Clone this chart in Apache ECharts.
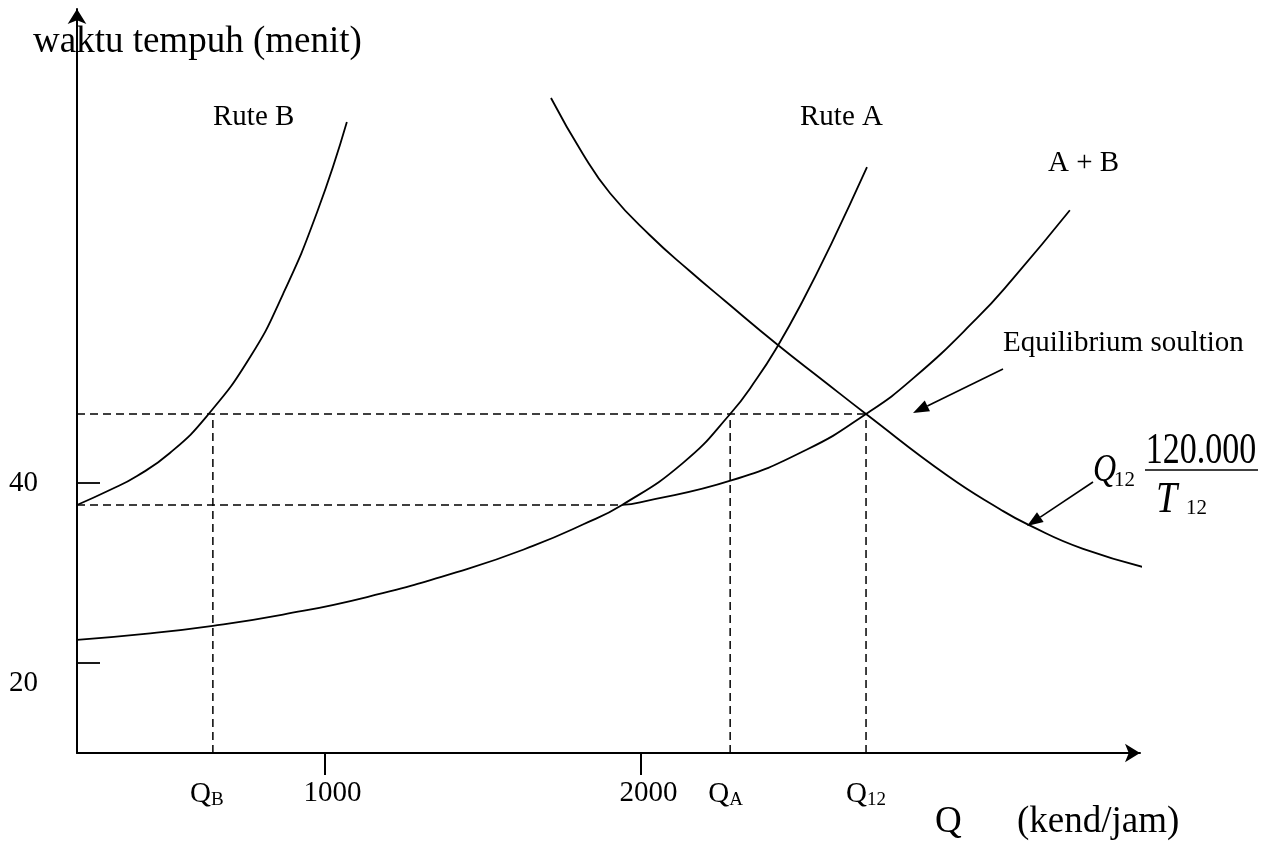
<!DOCTYPE html>
<html>
<head>
<meta charset="utf-8">
<script src="https://cdn.jsdelivr.net/npm/echarts@6/dist/echarts.min.js"></script>
<style>html,body{margin:0;padding:0;background:#fff}#c{width:1277px;height:842px}</style>
</head>
<body>
<div id="c"></div>
<script>
// ---------- data (Q in kend/jam, T in menit) ----------
const Q_MIN = 215, Q_MAX = 3579;
const T_MIN = 10, T_MAX = 92.67;

const T_EQ = 47.67;      // equilibrium travel time
const T_B0 = 37.56;      // free-flow time route B
const Q_SPLIT = 1940;    // where A+B leaves route A
const Q_B = 645;
const Q_A = 2282;
const Q_12 = 2712;

const ruteBQ = [215, 319, 405, 509, 626, 763, 867, 975, 1069];
const ruteBT = [37.56, 39.22, 40.78, 43.33, 47.44, 54.0, 61.0, 70.11, 80.11];

const ruteAQ = [215, 430, 645, 867, 1133, 1449, 1658, 1816, 1940, 2133, 2282, 2367, 2433, 2509, 2601, 2715];
const ruteAT = [22.56, 23.23, 24.13, 25.38, 27.33, 30.44, 33.01, 35.39, 37.56, 42.24, 47.67, 51.63, 55.26, 60.06, 66.5, 75.1];

const sumABQ = [1940, 1997, 2288, 2525, 2712, 2861, 3063, 3177, 3357];
const sumABT = [37.56, 37.86, 40.31, 43.72, 47.67, 51.62, 58.31, 62.71, 70.31];

const demandQ = [1715, 1816, 1902, 2028, 2155, 2266, 2433, 2576, 2712, 2968, 3136, 3225, 3399, 3649];
const demandT = [82.78, 76.56, 72.2, 67.53, 63.53, 60.22, 55.33, 51.39, 47.67, 40.86, 37.09, 35.38, 32.69, 30.14];

const X_TICKS = [1000, 2000];
const X_LABEL_VALUES = [Q_B, 1000, 2000, Q_A, Q_12];
const X_LABEL_TEXTS = ['{q|Q}{sB|B}', '{n|1000}', '{n|2000}', '{q|Q}{sA|A}', '{q|Q}{s|12}'];
const Y_TICKS = [20, 40];
const Y_LABEL_TEXTS = ['{d|20}', '{u|40}'];

// ---------- chart ----------
const FONT = '"Liberation Serif", "Times New Roman", serif';
const chart = echarts.init(document.getElementById('c'));

function pairs(xs, ys) { return xs.map((x, i) => [x, ys[i]]); }
const curveStyle = { color: '#000', width: 1.8 };
const dashStyle = { color: '#000', width: 1.5, type: [8, 5] };

function curve(name, xs, ys, extra) {
  return Object.assign({
    name: name, type: 'line', data: pairs(xs, ys), smooth: 0.5, symbol: 'none',
    lineStyle: curveStyle, silent: true, animation: false
  }, extra || {});
}
function dash(name, pts) {
  return { name: name, type: 'line', data: pts, symbol: 'none', lineStyle: dashStyle, silent: true, animation: false };
}

function arrowEls(x1, y1, x2, y2) {
  const len = 16, w = 12;
  const dx = x2 - x1, dy = y2 - y1, L = Math.hypot(dx, dy);
  const ux = dx / L, uy = dy / L;
  const bx = x2 - ux * len, by = y2 - uy * len;
  const px = -uy, py = ux;
  return [
    { type: 'line', shape: { x1: x1, y1: y1, x2: bx, y2: by }, style: { stroke: '#000', lineWidth: 1.6 } },
    { type: 'polygon', shape: { points: [[x2, y2], [bx + px * w / 2, by + py * w / 2], [bx - px * w / 2, by - py * w / 2]] }, style: { fill: '#000' } }
  ];
}

function txt(text, x, y, size, opts) {
  opts = opts || {};
  return {
    type: 'text', x: x, y: y, scaleY: opts.scaleY || 1, z: 10,
    style: {
      text: text, fontSize: size, fontFamily: FONT, fontStyle: opts.italic ? 'italic' : 'normal',
      fill: '#000', align: opts.align || 'left', textAlign: opts.align || 'left',
      verticalAlign: 'middle', textVerticalAlign: 'middle'
    }
  };
}

const richX = {
  n: { fontFamily: FONT, fontSize: 29, color: '#000', padding: [0, 0, 0, 15] },
  q: { fontFamily: FONT, fontSize: 29, color: '#000' },
  s: { fontFamily: FONT, fontSize: 19, color: '#000', padding: [12, 0, 0, 0] },
  sB: { fontFamily: FONT, fontSize: 19, color: '#000', padding: [12, 12, 0, 0] },
  sA: { fontFamily: FONT, fontSize: 19, color: '#000', padding: [12, 9, 0, 0] }
};
const richY = {
  d: { fontFamily: FONT, fontSize: 29, color: '#000', padding: [40, 0, 0, 0] },
  u: { fontFamily: FONT, fontSize: 29, color: '#000' }
};

const option = {
  backgroundColor: '#fff',
  animation: false,
  grid: { left: 77, top: 9, width: 1063, height: 744, containLabel: false, outerBoundsMode: 'none' },
  xAxis: {
    type: 'value', min: Q_MIN, max: Q_MAX,
    splitLine: { show: false },
    axisLine: { show: true, onZero: false, symbol: ['none', 'arrow'], symbolSize: [14, 15], lineStyle: { color: '#000', width: 2 } },
    axisTick: { show: true, customValues: X_TICKS, length: 22, lineStyle: { color: '#000', width: 2 } },
    axisLabel: {
      show: true, customValues: X_LABEL_VALUES, margin: 26, color: '#000', fontFamily: FONT, fontSize: 29,
      formatter: function (v) {
        const i = X_LABEL_VALUES.findIndex(u => Math.abs(u - v) < 1e-6);
        return i >= 0 ? X_LABEL_TEXTS[i] : '';
      },
      rich: richX
    }
  },
  yAxis: {
    type: 'value', min: T_MIN, max: T_MAX,
    splitLine: { show: false },
    axisLine: { show: true, onZero: false, symbol: ['none', 'arrow'], symbolSize: [14, 15], lineStyle: { color: '#000', width: 2 } },
    axisTick: { show: true, inside: true, customValues: Y_TICKS, length: 23, lineStyle: { color: '#000', width: 1.8 } },
    axisLabel: {
      show: true, customValues: Y_TICKS, margin: 39, color: '#000', fontFamily: FONT, fontSize: 29,
      formatter: function (v) {
        const i = Y_TICKS.findIndex(u => Math.abs(u - v) < 1e-6);
        return i >= 0 ? Y_LABEL_TEXTS[i] : '';
      },
      rich: richY
    }
  },
  series: [
    dash('eqH', [[Q_MIN, T_EQ], [Q_12, T_EQ]]),
    dash('b0H', [[Q_MIN, T_B0], [Q_SPLIT, T_B0]]),
    dash('qbV', [[Q_B, T_MIN], [Q_B, T_EQ]]),
    dash('qaV', [[Q_A, T_MIN], [Q_A, T_EQ]]),
    dash('q12V', [[Q_12, T_MIN], [Q_12, T_EQ]]),
    curve('Rute B', ruteBQ, ruteBT),
    curve('Rute A', ruteAQ, ruteAT),
    curve('A + B', sumABQ, sumABT),
    curve('Q12 = 120.000 / T12', demandQ, demandT, { clip: false })
  ],
  graphic: [].concat(
    [
      txt('waktu tempuh (menit)', 33, 42, 37),
      txt('Rute B', 213, 117, 29),
      txt('Rute A', 800, 117, 29),
      txt('A + B', 1048, 163, 29),
      txt('Equilibrium soultion', 1003, 343, 29),
      txt('Q', 935, 822, 37),
      txt('(kend/jam)', 1017, 822, 37),
      txt('Q', 1093, 470, 32, { italic: true, scaleY: 1.25 }),
      txt('12', 1114, 480, 21),
      txt('120.000', 1201, 451, 34, { align: 'center', scaleY: 1.3 }),
      { type: 'line', shape: { x1: 1145, y1: 470, x2: 1258, y2: 470 }, style: { stroke: '#000', lineWidth: 1.5 } },
      txt('T', 1156, 501, 38, { italic: true, scaleY: 1.15 }),
      txt('12', 1186, 508, 21)
    ],
    arrowEls(1003, 369, 913, 413),
    arrowEls(1093, 482, 1027, 526)
  )
};

chart.setOption(option);
</script>
</body>
</html>
